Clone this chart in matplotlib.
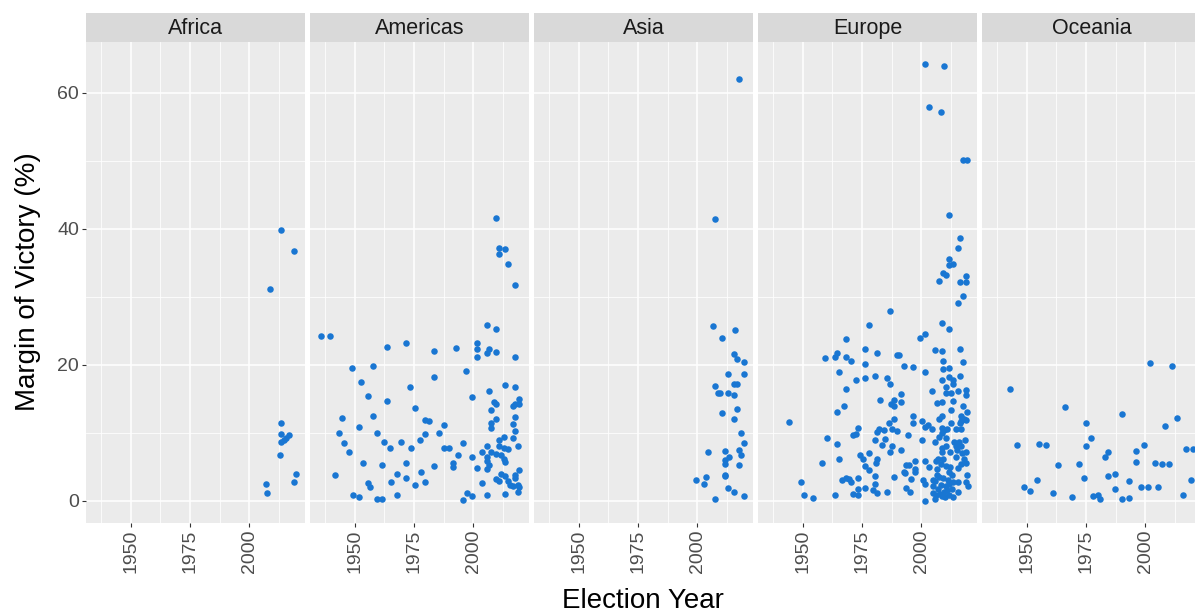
import matplotlib
matplotlib.use('Agg')
import matplotlib.pyplot as plt

plt.rcParams['font.family'] = ['Liberation Sans', 'DejaVu Sans']

regions = ['Africa', 'Americas', 'Asia', 'Europe', 'Oceania']

africa_year = [2013.5, 2018.8, 2008.6, 2013.5, 2013.5, 2016.8, 2015.5, 2014.4, 2013.5,
               2012.7, 2019.7, 2018.8, 2006.8, 2007.6]
africa_margin = [39.9, 36.7, 31.2, 11.4, 9.85, 9.7, 9.2, 8.9, 8.6, 6.8, 4.0, 2.8, 2.4, 1.2]

americas_year = [1935.7, 1939.7, 1963.6, 1971.8, 1948.7, 1957.6, 1952.7, 1973.5, 1955.7, 1963.6,
                 1975.4, 1944.6, 1957.6, 1951.7, 1943.5, 1959.5, 1945.6, 1962.5, 1969.5, 1977.6,
                 1947.6, 1964.8, 1973.6, 1953.5, 1961.6, 1971.8, 1941.6, 1967.7, 1971.8, 1978.0,
                 1955.7, 1956.6, 1965.4, 1975.5, 1949.4, 1951.7, 1959.5, 1961.6, 1967.7,
                 2009.7, 2010.6, 2013.5, 2010.6, 2014.6, 2017.6, 2005.7, 2009.7, 1983.6, 1992.6,
                 2001.6, 2001.6, 2001.6, 2006.7, 2005.7, 2009.7, 2017.6, 1996.7, 1983.6, 2013.5,
                 2017.6, 1999.6, 2006.7, 2008.6, 2009.7, 2007.5, 2009.7, 2017.6, 2019.4, 2019.4,
                 2016.7, 2017.6, 1979.5, 1981.5, 1979.7, 1987.7, 1985.6, 2007.5, 2007.5, 2016.7,
                 2017.6, 1995.7, 1987.7, 1989.7, 1993.6, 2010.6, 2012.7, 2016.7, 2005.7, 2010.6,
                 2012.7, 2014.7, 2018.8, 2003.6, 2007.5, 2005.7, 2009.7, 2011.6, 2012.7, 2013.5,
                 1999.6, 2005.7, 2006.7, 2005.7, 1991.6, 1991.6, 1983.6, 1979.5, 2001.6, 2011.6,
                 2013.5, 2009.7, 2010.6, 2014.7, 2017.6, 2019.4, 2017.6, 2015.5, 2016.7, 2018.8,
                 2019.4, 2018.8, 2003.6, 1997.5, 1999.6, 1995.7, 2005.7, 2013.5]
americas_margin = [24.3, 24.3, 22.6, 23.2, 19.6, 19.9, 17.5, 16.8, 15.4, 14.7,
                   13.7, 12.2, 12.4, 10.9, 9.95, 10.0, 8.5, 8.7, 8.7, 8.9,
                   7.2, 7.75, 7.7, 5.5, 5.3, 5.6, 3.8, 4.0, 3.4, 4.3,
                   2.6, 2.0, 2.75, 2.25, 0.8, 0.6, 0.2, 0.3, 0.8,
                   41.6, 37.2, 37.1, 36.3, 34.9, 31.8, 25.9, 25.2, 22.0, 22.5,
                   23.2, 22.4, 21.2, 22.3, 21.7, 21.9, 21.2, 19.1, 18.2, 17.0,
                   16.8, 15.3, 16.1, 14.5, 14.3, 13.3, 12.1, 14.3, 15.0, 14.3,
                   13.9, 12.3, 11.9, 11.8, 9.75, 11.1, 9.95, 11.4, 10.7, 11.3,
                   10.3, 8.5, 7.8, 7.8, 6.8, 9.0, 9.45, 9.2, 8.0, 8.1,
                   7.8, 7.6, 8.0, 7.1, 7.2, 6.5, 6.9, 6.7, 6.1, 5.7,
                   6.5, 5.8, 5.2, 4.7, 5.6, 5.0, 5.1, 2.75, 4.85, 3.9,
                   3.6, 3.2, 2.9, 2.9, 3.8, 4.5, 3.3, 2.35, 2.1, 2.35,
                   2.0, 1.3, 2.65, 1.2, 0.65, 0.1, 0.8, 1.0]

asia_year = [2017.5, 2007.5, 2006.4, 2015.7, 2010.5, 2015.5, 2016.5, 2019.5, 2012.7, 2019.5,
             2007.5, 2015.5, 2016.5, 2008.5, 2009.6, 2012.7, 2015.5, 2016.5, 2010.5, 2015.5,
             2018.5, 2019.5, 2004.6, 2011.6, 2017.5, 2018.5, 2013.5, 2011.6, 2011.6, 2017.5,
             1999.6, 2003.6, 2002.6, 2011.6, 2011.6, 2007.5, 2012.7, 2015.5, 2019.5]
asia_margin = [62.1, 41.4, 25.7, 25.1, 23.9, 21.6, 20.9, 20.4, 18.6, 18.6,
               16.9, 17.2, 17.2, 15.8, 15.8, 15.8, 15.5, 13.5, 12.9, 12.1,
               10.0, 8.5, 7.2, 7.3, 7.5, 6.8, 6.4, 6.0, 5.4, 5.3,
               3.1, 3.5, 2.5, 3.8, 3.6, 0.3, 1.9, 1.3, 0.7]

europe_year = [1944.3, 1949.3, 1950.4, 1954.5, 1958.3, 1959.4, 1960.4, 1963.5, 1964.5, 1965.3,
               1968.3, 1968.3, 1970.5, 1968.3, 1972.4, 1976.4, 1976.4, 1976.4, 1978.0, 1964.5,
               1967.4, 1973.5, 1972.4, 1971.2, 1964.5, 1965.3, 1974.3, 1975.3, 1976.4, 1978.0,
               1978.0, 1966.5, 1968.3, 1969.4, 1970.5, 1973.5, 1973.5, 1976.4, 1971.4, 1973.5,
               1963.5,
               2011.5, 2016.4, 2015.6, 2011.5, 2011.5, 2013.3, 2009.2, 2010.5, 2007.4, 2016.4,
               2018.6, 2018.6, 2017.5, 2015.6, 1986.6, 2008.5, 2011.5, 1999.5, 2001.5, 1981.5,
               1989.7, 1990.7, 2005.6, 2008.5, 2016.4, 2009.2, 2017.5, 1992.5, 1996.6, 2001.5,
               2009.2, 2011.5, 1980.5, 1985.5, 1986.6, 2008.5, 2011.5, 2013.3, 2013.3, 2016.4,
               2010.5, 2004.4, 2015.6, 2010.5, 2012.5, 2018.6, 2018.6, 1991.4, 1982.5, 1988.5,
               1991.4, 1987.4, 1988.5, 2006.6, 2008.5, 2013.3, 2017.5, 2012.5, 2019.3, 1996.4,
               2008.5, 2007.5, 2016.7, 2018.0, 2016.7, 2018.6, 1988.3, 2000.4, 1996.6, 1986.4,
               2002.6, 2001.5, 2012.5, 2016.1, 1984.3, 1987.6, 1989.7, 1982.2, 1981.2, 2004.3,
               2008.5, 2009.6, 2010.8, 2014.6, 2016.8, 1994.5, 2008.5, 2010.5, 1980.5, 1984.5,
               2000.4, 2005.6, 2007.5, 2013.6, 2015.7, 2018.5, 1983.6, 1987.6, 1986.6, 1981.5,
               1980.8, 1991.5, 2008.5, 2010.5, 2014.6, 2016.8, 2014.8, 2008.8, 2012.0, 2017.1,
               2018.8, 2014.6, 2007.1, 2009.2, 2006.3, 2018.1, 2016.5, 2018.9, 2015.6, 2012.2,
               2010.2, 2008.4, 2006.6, 2003.3, 2001.5, 1997.4, 1993.5, 1994.7, 1993.2, 1992.5,
               1997.4, 1997.4, 1988.4, 1980.5, 1995.6, 2000.8, 2001.5, 2004.7, 2006.6, 2007.5,
               2005.6, 2009.2, 2011.8, 2012.9, 2011.2, 2013.4, 2015.6, 2018.6, 2019.3, 2019.8,
               1980.5, 1993.5, 1979.5, 1981.2, 1985.5, 1995.4, 2004.7, 2006.8, 2008.4, 2010.3,
               2011.8, 2004.7, 2006.1, 2008.0, 2009.6, 2010.9, 2012.9, 2015.4, 2008.8, 2011.5,
               2013.3, 2001.5, 2005.6, 2009.8,
               2001.5, 2009.4, 2003.3, 2008.4, 2017.4, 2019.2]
europe_margin = [11.6, 2.8, 0.9, 0.4, 5.6, 21.0, 9.2, 21.1, 21.7, 18.9,
                 23.8, 21.2, 20.6, 16.4, 17.7, 22.4, 20.1, 18.0, 25.8, 13.0,
                 13.9, 10.7, 9.75, 9.65, 8.3, 6.2, 6.7, 6.1, 5.1, 7.0,
                 4.5, 3.0, 3.4, 3.2, 2.8, 3.4, 1.7, 1.9, 1.0, 0.8,
                 0.8,
                 42.0, 38.6, 37.2, 35.6, 34.7, 34.9, 33.5, 33.2, 32.3, 32.2,
                 33.0, 32.2, 30.2, 29.1, 27.9, 26.2, 25.2, 23.9, 24.6, 21.7,
                 21.4, 21.5, 22.2, 22.0, 22.4, 20.6, 20.4, 19.9, 19.7, 19.0,
                 19.4, 19.6, 18.4, 18.1, 17.2, 17.8, 18.2, 17.8, 17.2, 18.3,
                 16.7, 16.2, 16.2, 15.8, 15.8, 16.3, 15.5, 15.7, 14.8, 14.8,
                 14.6, 14.3, 13.9, 14.4, 14.5, 14.7, 14.0, 13.4, 13.1, 12.5,
                 12.5, 12.1, 12.4, 12.1, 11.7, 11.9, 12.1, 11.8, 11.4, 11.5,
                 11.2, 10.8, 11.5, 11.4, 10.4, 10.5, 10.3, 10.6, 10.1, 10.6,
                 10.7, 10.4, 10.6, 10.5, 10.6, 9.7, 10.0, 9.3, 8.9, 9.1,
                 9.0, 8.7, 9.4, 8.6, 8.6, 8.9, 8.2, 8.1, 7.2, 6.2,
                 5.5, 7.5, 7.8, 8.0, 8.0, 8.1, 7.4, 7.2, 7.1, 7.0,
                 7.2, 6.5, 6.1, 6.2, 5.9, 6.1, 5.4, 5.5, 4.8, 4.9,
                 5.1, 5.4, 4.7, 4.9, 5.8, 5.8, 5.2, 5.2, 4.1, 4.2,
                 4.6, 4.3, 3.5, 3.6, 3.2, 3.1, 2.5, 3.1, 3.8, 3.5,
                 2.9, 3.3, 4.2, 3.8, 3.1, 2.7, 2.7, 2.8, 3.8, 2.1,
                 2.5, 1.9, 1.6, 1.1, 1.3, 1.3, 2.1, 1.8, 2.3, 2.1,
                 2.4, 1.1, 0.9, 1.0, 1.3, 1.6, 1.7, 1.3, 0.73, 0.8,
                 0.5, 0.0, 0.2, 0.5,
                 64.3, 64.0, 58.0, 57.2, 50.2, 50.2]

oceania_year = [1943.1, 1946.1, 1955.2, 1958.3, 1949.0, 1951.3, 1954.2, 1966.0, 1963.2, 1961.2,
                1969.1, 1975.1, 1977.2, 1975.1, 1972.1, 1974.2, 1977.9, 1980.2, 1981.0, 1983.1,
                1984.3, 1984.3, 1987.2, 1987.2, 1990.2, 1990.2, 1993.1, 1993.1, 1996.2, 1996.2,
                1999.2, 1998.0, 2001.0, 2002.1, 2004.1, 2005.1, 2007.0, 2010.1, 2008.1, 2011.1,
                2013.1, 2017.0, 2020.1, 2019.1, 2016.0]
oceania_margin = [16.4, 8.2, 8.4, 8.2, 2.0, 1.4, 3.1, 13.8, 5.2, 1.1,
                  0.5, 11.5, 9.2, 8.0, 5.4, 3.4, 0.7, 0.9, 0.2, 6.5,
                  7.2, 3.6, 4.0, 1.7, 12.7, 0.2, 2.9, 0.4, 7.3, 5.7,
                  8.2, 2.0, 2.0, 20.3, 5.5, 2.0, 5.4, 5.4, 11.0, 19.8,
                  12.2, 7.6, 7.6, 3.1, 0.8]

x_major = [1950, 1975, 2000]
x_labels = ['1950', '1975', '2000']
x_minor = [1937.5, 1962.5, 1987.5, 2012.5]
y_major = [0, 20, 40, 60]
y_labels = ['0', '20', '40', '60']
y_minor = [10, 30, 50]

data = {
    'Africa': (africa_year, africa_margin),
    'Americas': (americas_year, americas_margin),
    'Asia': (asia_year, asia_margin),
    'Europe': (europe_year, europe_margin),
    'Oceania': (oceania_year, oceania_margin),
}

W, H = 1195, 616
fig = plt.figure(figsize=(W / 100, H / 100), dpi=100)

panel_w = 219
panel_top = 42
panel_bot = 522.5
strip_top = 13

for i, name in enumerate(regions):
    left = 86 + 224 * i
    ax = fig.add_axes([left / W, (H - panel_bot) / H, panel_w / W, (panel_bot - panel_top) / H])
    ax.set_facecolor('#EBEBEB')
    ax.set_xlim(1931.2, 2023.4)
    ax.set_ylim(-3.2, 67.5)
    ax.set_xticks(x_major)
    ax.set_xticklabels(x_labels, rotation=90)
    ax.set_xticks(x_minor, minor=True)
    ax.set_yticks(y_major)
    ax.set_yticklabels(y_labels)
    ax.set_yticks(y_minor, minor=True)
    ax.grid(which='major', color='white', lw=1.1)
    ax.grid(which='minor', color='white', lw=0.55)
    ax.set_axisbelow(True)
    for s in ax.spines.values():
        s.set_visible(False)
    ax.tick_params(which='minor', length=0)
    ax.tick_params(which='major', length=3, width=0.8, color='#333333',
                   labelsize=14, labelcolor='#4D4D4D', pad=2)
    if i > 0:
        ax.tick_params(axis='y', which='both', left=False, labelleft=False)
    xs, ys = data[name]
    ax.scatter(xs, ys, s=22, color='#1976D2', linewidths=0, zorder=3)

    sax = fig.add_axes([left / W, (H - panel_top) / H, panel_w / W, (panel_top - strip_top) / H])
    sax.set_facecolor('#D9D9D9')
    sax.set_xticks([])
    sax.set_yticks([])
    for s in sax.spines.values():
        s.set_visible(False)
    sax.text(0.5, 0.47, name, ha='center', va='center', fontsize=15.5, color='#1A1A1A',
             transform=sax.transAxes)

fig.text(643 / W, (H - 601) / H, 'Election Year', ha='center', va='center', fontsize=20,
         color='black')
fig.text(28 / W, (H - 282) / H, 'Margin of Victory (%)', rotation=90, ha='center',
         va='center', fontsize=20, color='black')

fig.savefig('out.png', dpi=100, facecolor='white')
